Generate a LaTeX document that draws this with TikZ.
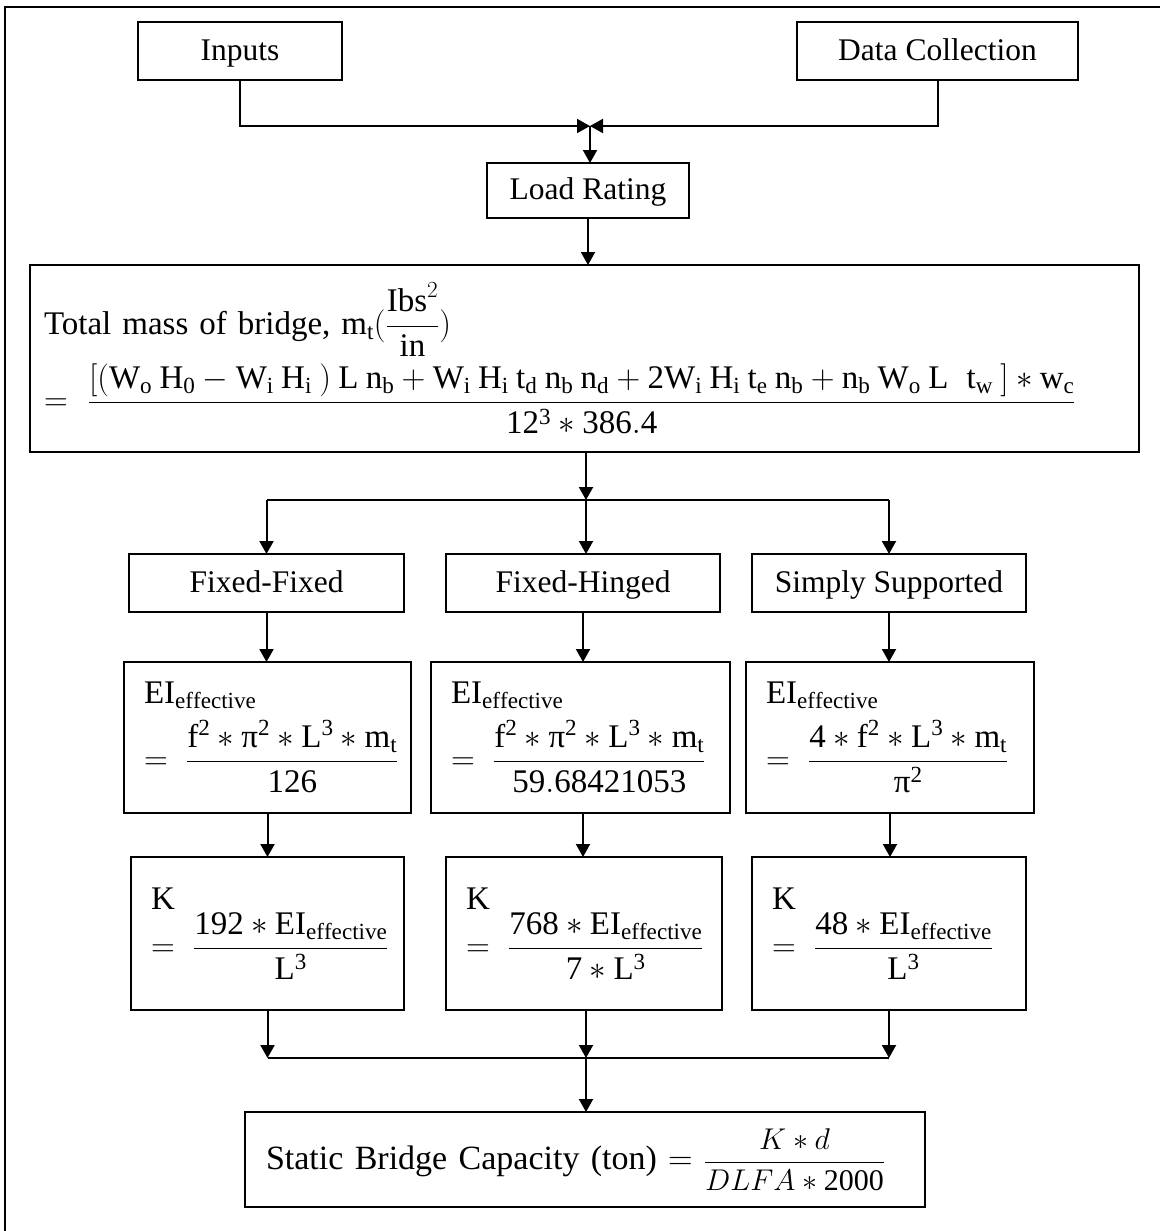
\RequirePackage{fix-cm}
\documentclass[tikz,border=0pt]{standalone}
\usepackage{amsmath}
\usepackage{fontspec}
\setmainfont{Liberation Serif}
\usetikzlibrary{arrows.meta}
\newcommand{\boxfont}{\fontsize{31.5}{37}\selectfont}
\newcommand{\formfont}{\fontsize{33}{40}\selectfont}
\newcommand{\uppi}{\text{π}}
\relpenalty=10000
\binoppenalty=10000

\begin{document}
\begin{tikzpicture}[x=1pt,y=-1pt,inner sep=0pt,outer sep=0pt,line width=2pt,
>={Triangle[length=13pt,width=14pt]},
block/.style={draw,rectangle,minimum height=58pt,text height=24pt,text depth=6pt,font=\boxfont},
formbox/.style={draw,rectangle,inner xsep=20pt,align=left,font=\formfont}]

\useasboundingbox (0,0) rectangle (1160,1231);
\draw (5,1231) -- (5,7) -- (1160,7);

\draw (240,51) node[block,minimum width=204pt] (inputs) {Inputs};
\draw (937.5,51) node[block,minimum width=281pt] (datacol) {Data Collection};
\coordinate (join) at (590,126);
\draw (588,190.5) node[block,minimum width=202pt,minimum height=55pt] (load) {Load Rating};

\draw (584.5,358.5) node[formbox,inner xsep=14pt,text width=1081pt,minimum height=187pt] (mass)
  {Total mass of bridge,\ $\mathrm{m_t}(\dfrac{\mathrm{Ibs}^2}{\mathrm{in}})$\\[6pt]
   \mbox{$=\ \dfrac{\mathrm{[(W_o\:H_0 - W_i\:H_i\:)\:L\:n_b + W_i\:H_i\:t_d\:n_b\:n_d + 2W_i\:H_i\:t_e\:n_b + n_b\:W_o\:L\:\ t_w\:] \ast w_c}}{\mathrm{12^3 \ast 386.4}}$}};

\coordinate (split) at (586,500);
\draw (266.5,583) node[block,minimum width=275pt] (ff) {Fixed-Fixed};
\draw (583,583) node[block,minimum width=274pt] (fh) {Fixed-Hinged};
\draw (889,583) node[block,minimum width=274pt] (ss) {Simply Supported};

\draw (267.5,737.5) node[formbox,text width=247pt,minimum height=151pt] (eiff)
  {$\mathrm{EI_{effective}}$\\[10pt] \mbox{$=\; \dfrac{\mathrm{f^2 \ast \uppi^2 \ast L^3 \ast m_t}}{\mathrm{126}}$}};
\draw (580.5,737.5) node[formbox,text width=259pt,minimum height=151pt] (eifh)
  {$\mathrm{EI_{effective}}$\\[10pt] \mbox{$=\; \dfrac{\mathrm{f^2 \ast \uppi^2 \ast L^3 \ast m_t}}{\mathrm{59.68421053}}$}};
\draw (890,737.5) node[formbox,text width=248pt,minimum height=151pt] (eiss)
  {$\mathrm{EI_{effective}}$\\[10pt] \mbox{$=\; \dfrac{\mathrm{4 \ast f^2 \ast L^3 \ast m_t}}{\mathrm{\uppi^2}}$}};

\draw (267.5,933.5) node[formbox,text width=233pt,minimum height=153pt] (kff)
  {$\mathrm{K}$\\[2pt] \mbox{$=\; \dfrac{\mathrm{192 \ast EI_{effective}}}{\mathrm{L^3}}$}};
\draw (584,933.5) node[formbox,text width=236pt,minimum height=153pt] (kfh)
  {$\mathrm{K}$\\[2pt] \mbox{$=\; \dfrac{\mathrm{768 \ast EI_{effective}}}{\mathrm{7 \ast L^3}}$}};
\draw (889,933.5) node[formbox,text width=234pt,minimum height=153pt] (kss)
  {$\mathrm{K}$\\[2pt] \mbox{$=\; \dfrac{\mathrm{48 \ast EI_{effective}}}{\mathrm{L^3}}$}};

\coordinate (merge) at (586,1058);
\draw (585,1159.5) node[formbox,inner xsep=21pt,text width=638pt,minimum height=95pt,font=\fontsize{34}{41}\selectfont] (final)
  {\mbox{Static Bridge Capacity (ton) $=$\ {\fontsize{30}{36}\selectfont$\dfrac{K \ast d}{DLFA \ast \mathrm{2000}}$}}};

\draw[->] (inputs.south) |- (join);
\draw[->] (datacol.south) |- (join);
\draw[->] (join) -- (join |- load.north);
\draw[->] (load.south) -- (load.south |- mass.north);
\draw[->] (split |- mass.south) -- (split);
\draw (split -| ff.south) -- (split -| ss.south);
\draw[->] (split -| ff.south) -- (ff.north);
\draw[->] (split) -- (split |- fh.north);
\draw[->] (split -| ss.south) -- (ss.north);
\draw[->] (ff.south) -- (ff.south |- eiff.north);
\draw[->] (fh.south) -- (fh.south |- eifh.north);
\draw[->] (ss.south) -- (ss.south |- eiss.north);
\draw[->] (eiff.south) -- (eiff.south |- kff.north);
\draw[->] (fh.south |- eifh.south) -- (fh.south |- kfh.north);
\draw[->] (eiss.south) -- (eiss.south |- kss.north);
\draw (kff.south |- merge) -- (kss.south |- merge);
\draw[->] (kff.south) -- (kff.south |- merge);
\draw[->] (merge |- kfh.south) -- (merge);
\draw[->] (kss.south) -- (kss.south |- merge);
\draw[->] (merge) -- (merge |- final.north);
\end{tikzpicture}
\end{document}
